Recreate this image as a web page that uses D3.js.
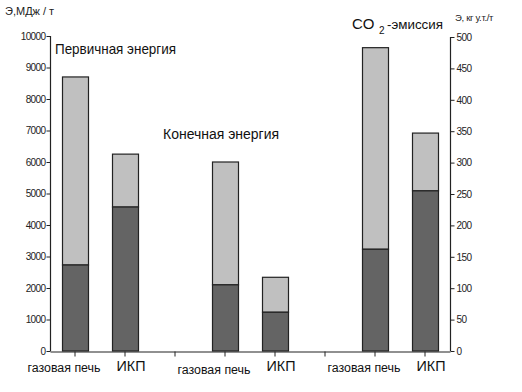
<!DOCTYPE html>
<html><head><meta charset="utf-8">
<script src="https://cdn.jsdelivr.net/npm/d3@7"></script>
<style>
html,body{margin:0;padding:0;background:#fff;}
svg{display:block;}
</style></head>
<body>
<script>
// ---- data ----
const categories = ["газовая печь","ИКП","","газовая печь","ИКП","","газовая печь","ИКП"];
const groupTitles = ["Первичная энергия","Конечная энергия"];
const co2Title = ["CO","2","-эмиссия"];
// primary energy, МДж/т (left axis)
const primaryLower = [2730, 4570];
const primaryTotal = [8700, 6250];
// final energy, МДж/т (left axis)
const finalLower = [2100, 1230];
const finalTotal = [6000, 2340];
// CO2 emission, кг у.т./т (right axis)
const co2Lower = [162, 255];
const co2Total = [483, 347];
const leftTicks = [0,1000,2000,3000,4000,5000,6000,7000,8000,9000,10000];
const rightTicks = [0,50,100,150,200,250,300,350,400,450,500];

const W = 522, H = 392;
const svg = d3.select("body").append("svg").attr("width", W).attr("height", H);

const x = d3.scaleBand().domain(d3.range(categories.length)).range([50,450])
  .paddingInner(0.48).paddingOuter(0.24);
const yL = d3.scaleLinear().domain([0,10000]).range([351,36]);
const yR = d3.scaleLinear().domain([0,500]).range([351,37]);

const bars = [
  {i:0, lo:primaryLower[0], tot:primaryTotal[0], y:yL},
  {i:1, lo:primaryLower[1], tot:primaryTotal[1], y:yL},
  {i:3, lo:finalLower[0], tot:finalTotal[0], y:yL},
  {i:4, lo:finalLower[1], tot:finalTotal[1], y:yL},
  {i:6, lo:co2Lower[0], tot:co2Total[0], y:yR},
  {i:7, lo:co2Lower[1], tot:co2Total[1], y:yR}
];

const light = "#c0c0c0", dark = "#646464";
const g = svg.append("g");
bars.forEach(b => {
  g.append("rect").attr("x", x(b.i)+0.5).attr("width", x.bandwidth())
    .attr("y", b.y(b.tot)).attr("height", b.y(b.lo)-b.y(b.tot))
    .attr("fill", light).attr("stroke", "#222").attr("stroke-width", 1.2);
  g.append("rect").attr("x", x(b.i)+0.5).attr("width", x.bandwidth())
    .attr("y", b.y(b.lo)).attr("height", b.y(0)-b.y(b.lo))
    .attr("fill", dark).attr("stroke", "#222").attr("stroke-width", 1.2);
});

const sans = "Liberation Sans";
// left axis
const axL = svg.append("g").attr("transform","translate(50.5,0)")
  .call(d3.axisLeft(yL).tickValues(leftTicks).tickSize(4).tickPadding(1).tickFormat(d3.format("d")));
// right axis
const axR = svg.append("g").attr("transform","translate(450.5,0)")
  .call(d3.axisRight(yR).tickValues(rightTicks).tickSize(4).tickPadding(2).tickFormat(d3.format("d")));
[axL, axR].forEach(a => {
  a.attr("font-family", sans);
  a.select(".domain").attr("stroke","#222").attr("stroke-width",1.2);
  a.selectAll(".tick line").attr("stroke","#222");
  a.selectAll(".tick text").attr("font-size", 10)
    .attr("letter-spacing", -0.6).attr("fill","#222");
});
axL.select(".domain").attr("d", "M-0,351V36");
axR.select(".domain").attr("d", "M0,351V37");

// x axis
const axX = svg.append("g").attr("transform","translate(0,351.5)")
  .call(d3.axisBottom(x).tickSize(5).tickSizeOuter(0).tickFormat(i => categories[i]));
axX.attr("font-family", sans);
axX.select(".domain").attr("stroke","#222").attr("stroke-width",1.2);
axX.selectAll(".tick line").attr("stroke","#222");
axX.selectAll(".tick text")
  .attr("font-size", d => categories[d]==="ИКП" ? 14 : 12)
  .attr("dx", d => categories[d]==="ИКП" ? 6 : -11)
  .attr("dy", d => categories[d]==="ИКП" ? "0.85em" : (d===3 ? "1.2em" : "1.0em"))
  .attr("textLength", d => categories[d]==="ИКП" ? 29 : (categories[d] ? 73 : null))
  .attr("lengthAdjust","spacingAndGlyphs")
  .attr("fill","#111");

// axis titles
svg.append("text").attr("x",5).attr("y",15).attr("font-family",sans)
  .attr("font-size",11).attr("fill","#222").text("Э,МДж / т");
svg.append("text").attr("x",455).attr("y",21).attr("font-family",sans)
  .attr("font-size",9.5).attr("fill","#222").attr("letter-spacing",-0.3).text("Э, кг у.т./т");

// group titles
svg.append("text").attr("x",55).attr("y",54).attr("font-family",sans)
  .attr("font-size",15).attr("textLength",121).attr("lengthAdjust","spacingAndGlyphs")
  .attr("fill","#111").text(groupTitles[0]);
svg.append("text").attr("x",163).attr("y",139).attr("font-family",sans)
  .attr("font-size",14).attr("textLength",116).attr("lengthAdjust","spacingAndGlyphs")
  .attr("fill","#111").text(groupTitles[1]);
svg.append("text").attr("x",352).attr("y",29).attr("font-family",sans)
  .attr("font-size",15).attr("fill","#111").text(co2Title[0]);
svg.append("text").attr("x",379).attr("y",34).attr("font-family",sans)
  .attr("font-size",10).attr("fill","#111").text(co2Title[1]);
svg.append("text").attr("x",387).attr("y",29).attr("font-family",sans)
  .attr("font-size",13).attr("textLength",56).attr("lengthAdjust","spacingAndGlyphs")
  .attr("fill","#111").text(co2Title[2]);
</script>
</body></html>
